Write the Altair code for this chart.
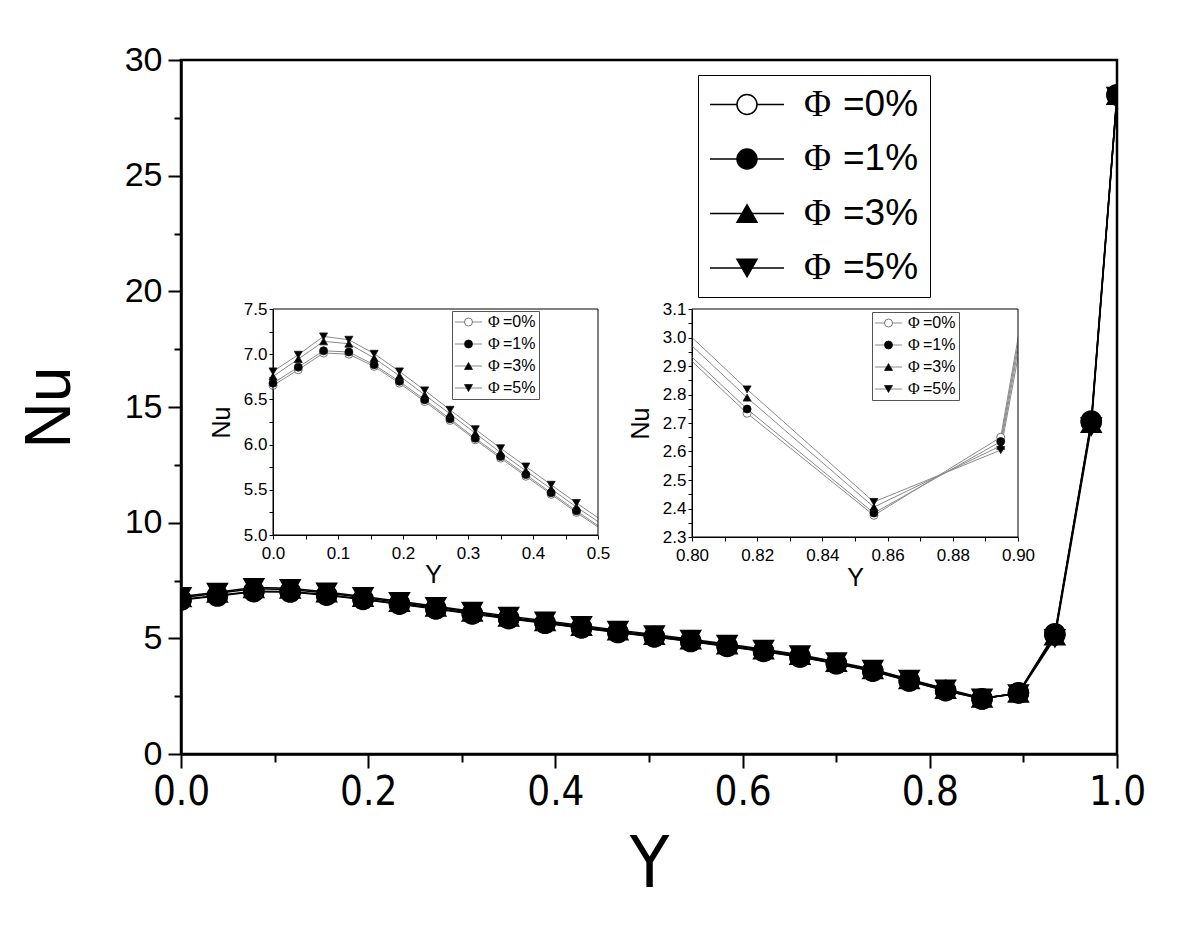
import altair as alt
import pandas as pd

# ---------------- data ----------------
Y_POS = [0.0, 0.0389, 0.0778, 0.1167, 0.1556, 0.1945, 0.2334, 0.2723, 0.3112,
         0.3501, 0.3890, 0.4279, 0.4668, 0.5057, 0.5446, 0.5835, 0.6224, 0.6613,
         0.7002, 0.7391, 0.7780, 0.8169, 0.8558, 0.8947, 0.9336, 0.9725, 1.0]
NU_0 = [6.654, 6.828, 7.013, 7.000, 6.865, 6.680, 6.477, 6.267, 6.053,
        5.850, 5.650, 5.450, 5.250, 5.060, 4.860, 4.650, 4.430, 4.190,
        3.900, 3.580, 3.154, 2.734, 2.376, 2.650, 5.200, 14.40, 28.50]
NU_1 = [6.680, 6.857, 7.038, 7.024, 6.883, 6.700, 6.496, 6.285, 6.070,
        5.868, 5.668, 5.467, 5.267, 5.076, 4.876, 4.665, 4.445, 4.205,
        3.914, 3.594, 3.168, 2.749, 2.384, 2.635, 5.150, 14.35, 28.48]
NU_3 = [6.754, 6.946, 7.142, 7.116, 6.957, 6.760, 6.550, 6.340, 6.126,
        5.912, 5.710, 5.510, 5.310, 5.120, 4.920, 4.710, 4.490, 4.250,
        3.955, 3.635, 3.207, 2.789, 2.405, 2.620, 5.100, 14.28, 28.46]
NU_5 = [6.810, 6.994, 7.197, 7.160, 7.005, 6.810, 6.600, 6.385, 6.170,
        5.960, 5.758, 5.556, 5.355, 5.163, 4.962, 4.750, 4.530, 4.290,
        3.990, 3.665, 3.237, 2.818, 2.423, 2.605, 5.000, 14.15, 28.44]

SERIES = ["Φ =0%", "Φ =1%", "Φ =3%", "Φ =5%"]
SHAPES = ["circle", "circle", "triangle-up", "triangle-down"]
FILLS = ["white", "black", "black", "black"]

MAIN_X_MAJOR = [0.0, 0.2, 0.4, 0.6, 0.8, 1.0]
MAIN_X_MINOR = [0.1, 0.3, 0.5, 0.7, 0.9]
MAIN_Y_MAJOR = [0, 5, 10, 15, 20, 25, 30]
MAIN_Y_MINOR = [2.5, 7.5, 12.5, 17.5, 22.5, 27.5]
IN1_X_TICKS = [0.0, 0.05, 0.1, 0.15, 0.2, 0.25, 0.3, 0.35, 0.4, 0.45, 0.5]
IN1_Y_TICKS = [5.0, 5.25, 5.5, 5.75, 6.0, 6.25, 6.5, 6.75, 7.0, 7.25, 7.5]
IN2_X_TICKS = [0.80, 0.81, 0.82, 0.83, 0.84, 0.85, 0.86, 0.87, 0.88, 0.89, 0.90]
IN2_Y_TICKS = [2.3, 2.35, 2.4, 2.45, 2.5, 2.55, 2.6, 2.65, 2.7, 2.75, 2.8,
               2.85, 2.9, 2.95, 3.0, 3.05, 3.1]

rows = []
for name, vals in zip(SERIES, [NU_0, NU_1, NU_3, NU_5]):
    for yv, nv in zip(Y_POS, vals):
        rows.append({"Y": yv, "Nu": nv, "series": name, "sl": name})
df = pd.DataFrame(rows)

SANS = "Liberation Sans, Arial, sans-serif"
NARROW = "Liberation Sans Narrow, DejaVu Sans Condensed, Liberation Sans, sans-serif"
SERIF = "Liberation Serif, Times New Roman, serif"
GRAY = "#8a8a8a"

# ---------------- main chart ----------------
xs_main = alt.Scale(domain=[0, 1], nice=False, zero=False)
ys_main = alt.Scale(domain=[0, 30], nice=False, zero=False)

ax_main_x = alt.Axis(values=MAIN_X_MAJOR, format=".1f", tickSize=14, tickWidth=2,
                     tickColor="black", domainColor="black", domainWidth=2.5,
                     labelFont=NARROW, labelFontSize=40, labelColor="black",
                     labelPadding=4, labelFlush=False, labelOverlap=False, grid=False,
                     title="Y", titleFont=NARROW, titleFontSize=72,
                     titleFontWeight="normal", titleColor="black",
                     titleX=468, titleY=110, titleBaseline="middle", titleAlign="center")
ax_main_y = alt.Axis(values=MAIN_Y_MAJOR, format="d", tickSize=13, tickWidth=2,
                     tickColor="black", domainColor="black", domainWidth=2.5,
                     labelFont=SANS, labelFontSize=34, labelColor="black",
                     labelPadding=6, labelFlush=False, labelOverlap=False, grid=False,
                     title="Nu", titleFont=SANS, titleFontSize=64,
                     titleFontWeight="normal", titleColor="black", titleAngle=270,
                     titleX=-131, titleY=347, titleBaseline="middle", titleAlign="center")
ax_minor_x = alt.Axis(values=MAIN_X_MINOR, labels=False, tickSize=8, tickWidth=2,
                      tickColor="black", domain=False, grid=False, title=None,
                      orient="bottom")
ax_minor_y = alt.Axis(values=MAIN_Y_MINOR, labels=False, tickSize=7, tickWidth=2,
                      tickColor="black", domain=False, grid=False, title=None,
                      orient="left")

leg_main_lines = alt.Legend(title=None, orient="none", legendX=517, legendY=15,
                            padding=11, symbolType="M-3.7,0H3.7", symbolSize=400,
                            symbolStrokeWidth=1.5, symbolOffset=19.5,
                            labelExpr="'Φ'", labelFont=SERIF, labelFontSize=37,
                            labelColor="black", labelOffset=38.5, rowPadding=16.5,
                            zindex=1)
leg_main_pts = alt.Legend(title=None, orient="none", legendX=517, legendY=15,
                          padding=11, strokeColor="black", symbolSize=400,
                          symbolStrokeColor="black", symbolStrokeWidth=1.5,
                          symbolOffset=19.5,
                          labelExpr="replace(datum.label, 'Φ ', '')",
                          labelFont=SANS, labelFontSize=37, labelColor="black",
                          labelOffset=77.5, rowPadding=16.5, zindex=2)

main_lines = alt.Chart(df).mark_line(strokeWidth=1.5, clip=True).encode(
    x=alt.X("Y:Q", scale=xs_main, axis=ax_main_x),
    y=alt.Y("Nu:Q", scale=ys_main, axis=ax_main_y),
    color=alt.Color("sl:N", scale=alt.Scale(range=["black"] * 4), legend=leg_main_lines),
)
main_pts = alt.Chart(df).mark_point(filled=True, size=400, opacity=1,
                                    strokeWidth=1.5, clip=True).encode(
    x=alt.X("Y:Q", scale=xs_main, axis=None),
    y=alt.Y("Nu:Q", scale=ys_main, axis=None),
    shape=alt.Shape("series:N", scale=alt.Scale(domain=SERIES, range=SHAPES),
                    legend=leg_main_pts),
    fill=alt.Fill("series:N", scale=alt.Scale(domain=SERIES, range=FILLS),
                  legend=leg_main_pts),
    stroke=alt.Stroke("series:N", scale=alt.Scale(domain=SERIES, range=["black"] * 4),
                      legend=leg_main_pts),
)
main_minor = alt.Chart(df).mark_point(opacity=0).encode(
    x=alt.X("Y:Q", scale=xs_main, axis=ax_minor_x),
    y=alt.Y("Nu:Q", scale=ys_main, axis=ax_minor_y),
)
main = alt.layer(main_lines, main_pts, main_minor).resolve_axis(x="independent",
                                                                y="independent")


# ---------------- insets ----------------
def inset(xdom, ydom, xr, yr, xticks, yticks, xlab, ylab, xoff, yoff,
          xtitle_x, xtitle_y, ytitle_y, legx, legy, clip_path, filt):
    xs = alt.Scale(domain=xdom, range=xr, nice=False, zero=False)
    ys = alt.Scale(domain=ydom, range=yr, nice=False, zero=False)
    axx = alt.Axis(orient="bottom", offset=xoff, values=xticks, labelExpr=xlab,
                   tickSize=4, tickWidth=1, tickColor="black", domainColor="black",
                   domainWidth=1, labelFont=SANS, labelFontSize=17, labelColor="black",
                   labelPadding=6, labelFlush=False, labelOverlap=False, grid=False,
                   title="Y", titleFont=SANS, titleFontSize=25, titleFontWeight="normal",
                   titleColor="black", titleX=xtitle_x, titleY=xtitle_y,
                   titleBaseline="middle", titleAlign="center")
    axy = alt.Axis(orient="left", offset=yoff, values=yticks, labelExpr=ylab,
                   tickSize=4, tickWidth=1, tickColor="black", domainColor="black",
                   domainWidth=1, labelFont=SANS, labelFontSize=17, labelColor="black",
                   labelPadding=2, labelFlush=False, labelOverlap=False, grid=False,
                   title="Nu", titleFont=SANS, titleFontSize=25, titleFontWeight="normal",
                   titleColor="black", titleAngle=270, titleX=-52, titleY=ytitle_y,
                   titleBaseline="middle", titleAlign="center")
    leg_l = alt.Legend(title=None, orient="none", legendX=legx, legendY=legy, padding=3,
                       symbolType="M-3.4,0H3.4", symbolSize=64, symbolStrokeWidth=1,
                       symbolOffset=5.5, labelExpr="'Φ'", labelFont=SERIF,
                       labelFontSize=16, labelColor="black", labelOffset=11.5,
                       rowPadding=6, zindex=1)
    leg_p = alt.Legend(title=None, orient="none", legendX=legx, legendY=legy, padding=3,
                       strokeColor="#555555", symbolSize=64, symbolStrokeColor="#333333",
                       symbolStrokeWidth=0.8, symbolOffset=5.5,
                       labelExpr="replace(datum.label, 'Φ ', '')", labelFont=SANS,
                       labelFontSize=16, labelColor="black", labelOffset=26.5,
                       rowPadding=6, zindex=2)
    lines = alt.Chart(df).mark_line(strokeWidth=1, clip={"expr": f"pathShape('{clip_path}')"}).encode(
        x=alt.X("Y:Q", scale=xs, axis=axx),
        y=alt.Y("Nu:Q", scale=ys, axis=axy),
        color=alt.Color("sl:N", scale=alt.Scale(range=[GRAY] * 4), legend=leg_l),
    )
    pts = alt.Chart(df).transform_filter(filt).mark_point(
        filled=True, size=64, opacity=1, strokeWidth=0.8).encode(
        x=alt.X("Y:Q", scale=xs, axis=axx),
        y=alt.Y("Nu:Q", scale=ys, axis=axy),
        shape=alt.Shape("series:N", scale=alt.Scale(domain=SERIES, range=SHAPES),
                        legend=leg_p),
        fill=alt.Fill("series:N", scale=alt.Scale(domain=SERIES, range=FILLS),
                      legend=leg_p),
        stroke=alt.Stroke("series:N",
                          scale=alt.Scale(domain=SERIES,
                                          range=["#555555", "#111111", "#111111", "#111111"]),
                          legend=leg_p),
    )
    frame = alt.Chart(alt.Data(values=[{}])).mark_rect(
        filled=False, stroke="black", strokeWidth=1).encode(
        x=alt.XDatum(xdom[0], type="quantitative", scale=xs),
        x2=alt.X2Datum(xdom[1]),
        y=alt.YDatum(ydom[0], type="quantitative", scale=ys),
        y2=alt.Y2Datum(ydom[1]),
    )
    return alt.layer(lines, pts, frame)


inset1 = inset([0.0, 0.5], [5.0, 7.5], [92, 417], [475, 249], IN1_X_TICKS, IN1_Y_TICKS,
               "abs(datum.value*10 - round(datum.value*10)) < 0.001 ? format(datum.value, '.1f') : ''",
               "abs(datum.value*2 - round(datum.value*2)) < 0.001 ? format(datum.value, '.1f') : ''",
               -219, -92, 252, 39, 362, 271, 251,
               "M92,249H417V475H92Z", "datum.Y <= 0.5")
inset2 = inset([0.80, 0.90], [2.3, 3.1], [511, 837], [477, 249], IN2_X_TICKS, IN2_Y_TICKS,
               "abs(datum.value*50 - round(datum.value*50)) < 0.001 ? format(datum.value, '.2f') : ''",
               "abs(datum.value*10 - round(datum.value*10)) < 0.001 ? format(datum.value, '.1f') : ''",
               -217, -511, 674, 40, 363, 691, 252,
               "M511,249H837V477H511Z", "datum.Y >= 0.8 && datum.Y <= 0.9")

chart = alt.layer(main, inset1, inset2).resolve_scale(
    x="independent", y="independent", color="independent",
    shape="independent", fill="independent", stroke="independent",
).properties(
    width=936, height=694,
    padding={"left": 173, "top": 52, "right": 60, "bottom": 180},
    autosize=alt.AutoSizeParams(type="none"),
    background="white",
).configure_view(stroke="black", strokeWidth=2.5)

chart.save("out.html", embed_options={"renderer": "svg", "actions": False})
